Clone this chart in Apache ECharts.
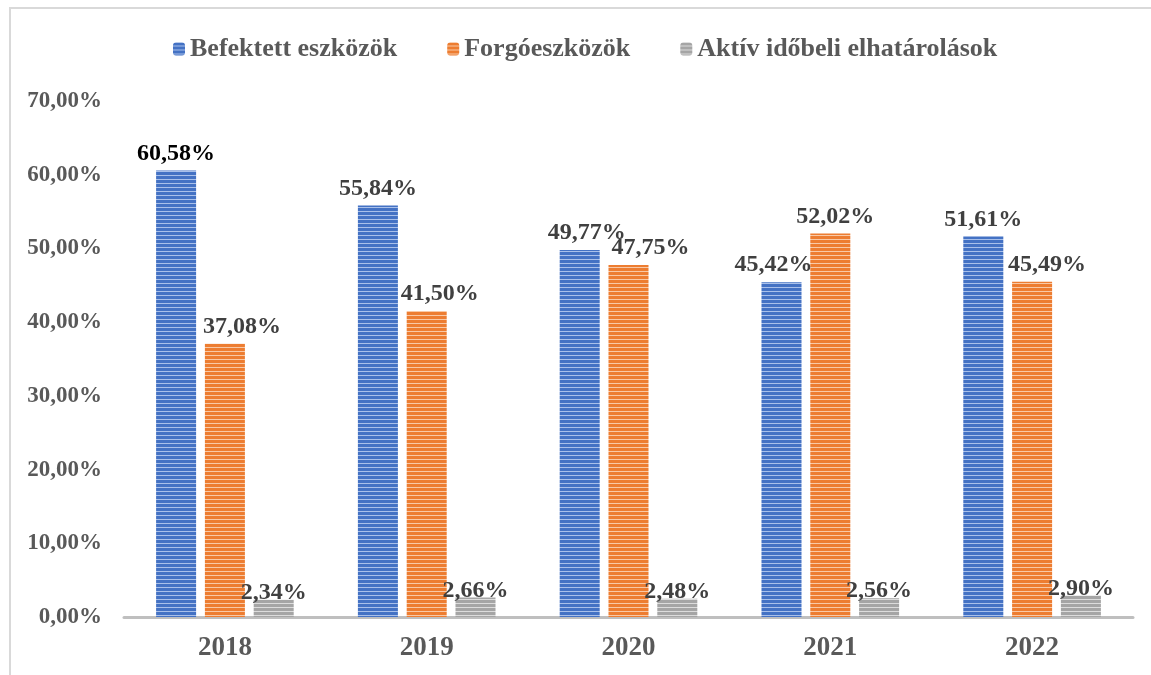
<!DOCTYPE html>
<html>
<head>
<meta charset="utf-8">
<title>Eszközök aránya</title>
<script src="https://cdn.jsdelivr.net/npm/echarts@6/dist/echarts.min.js"></script>
<style>
  html, body { margin: 0; padding: 0; background: #fff; }
  #chart { width: 1151px; height: 675px; }
</style>
</head>
<body>
<div id="chart"></div>
<script>
// data (percent)
var years = ['2018', '2019', '2020', '2021', '2022'];
var befektett = [60.58, 55.84, 49.77, 45.42, 51.61];
var forgo = [37.08, 41.50, 47.75, 52.02, 45.49];
var aktiv = [2.34, 2.66, 2.48, 2.56, 2.90];
var seriesNames = ['Befektett eszközök', 'Forgóeszközök', 'Aktív időbeli elhatárolások'];

// small sideways nudges of the value labels, like in the original
var blueNudge = [0, 0, 7, -8, 0];
var orangeNudge = [17, 13, 22, 5, 15];

var FONT = "'Liberation Serif', 'Times New Roman', serif";

// horizontal stripes
function stripes(dark, light) {
    var c = document.createElement('canvas');
    c.width = 4;
    c.height = 4;
    var ctx = c.getContext('2d');
    ctx.fillStyle = dark;
    ctx.fillRect(0, 0, 4, 4);
    ctx.fillStyle = light;
    ctx.fillRect(0, 3, 4, 1);
    return { image: c, repeat: 'repeat' };
}

function pct(v) {
    return v.toFixed(2).replace('.', ',') + '%';
}

function withLabels(values, nudge, firstColor) {
    return values.map(function (v, i) {
        var item = { value: v };
        var lab = {};
        if (nudge) lab.offset = [nudge[i], 0];
        if (i === 0 && firstColor) lab.color = firstColor;
        item.label = lab;
        return item;
    });
}

var labelBase = {
    show: true,
    position: 'top',
    distance: 5,
    fontFamily: FONT,
    fontWeight: 'bold',
    fontSize: 24,
    color: '#404040',
    formatter: function (p) { return pct(p.value); }
};

var chart = echarts.init(document.getElementById('chart'));

chart.setOption({
    animation: false,
    backgroundColor: '#fff',
    graphic: [{
        type: 'rect',
        shape: { x: 10, y: 8, width: 1200, height: 700 },
        style: { fill: 'none', stroke: '#D9D9D9', lineWidth: 2 },
        silent: true,
        z: -1
    }],
    legend: {
        left: 168,
        top: 31,
        itemWidth: 12,
        itemHeight: 13,
        itemGap: 50,
        textStyle: {
            fontFamily: FONT,
            fontWeight: 'bold',
            fontSize: 26,
            color: '#595959'
        },
        data: seriesNames
    },
    grid: {
        left: 124,
        right: 18,
        top: 101,
        bottom: 58,
        containLabel: false
    },
    xAxis: {
        type: 'category',
        data: years,
        axisLine: { lineStyle: { color: '#BFBFBF', width: 3 } },
        axisTick: { show: false },
        axisLabel: {
            margin: 18,
            fontFamily: FONT,
            fontWeight: 'bold',
            fontSize: 27,
            color: '#595959'
        }
    },
    yAxis: {
        type: 'value',
        min: 0,
        max: 70,
        interval: 10,
        splitLine: { show: false },
        axisLine: { show: false },
        axisTick: { show: false },
        axisLabel: {
            margin: 22,
            fontFamily: FONT,
            fontWeight: 'bold',
            fontSize: 23,
            color: '#595959',
            formatter: function (v) { return pct(v); }
        }
    },
    series: [{
        name: seriesNames[0],
        type: 'bar',
        barWidth: 40,
        barGap: '22%',
        itemStyle: { color: stripes('#4472C4', '#A9C0EA') },
        label: labelBase,
        data: withLabels(befektett, blueNudge, '#000000')
    }, {
        name: seriesNames[1],
        type: 'bar',
        barWidth: 40,
        barGap: '22%',
        itemStyle: { color: stripes('#ED7D31', '#F9C9A6') },
        label: labelBase,
        data: withLabels(forgo, orangeNudge)
    }, {
        name: seriesNames[2],
        type: 'bar',
        barWidth: 40,
        barGap: '22%',
        itemStyle: { color: stripes('#A5A5A5', '#DCDCDC') },
        label: Object.assign({}, labelBase, { distance: -5 }),
        data: withLabels(aktiv)
    }]
});
</script>
</body>
</html>
